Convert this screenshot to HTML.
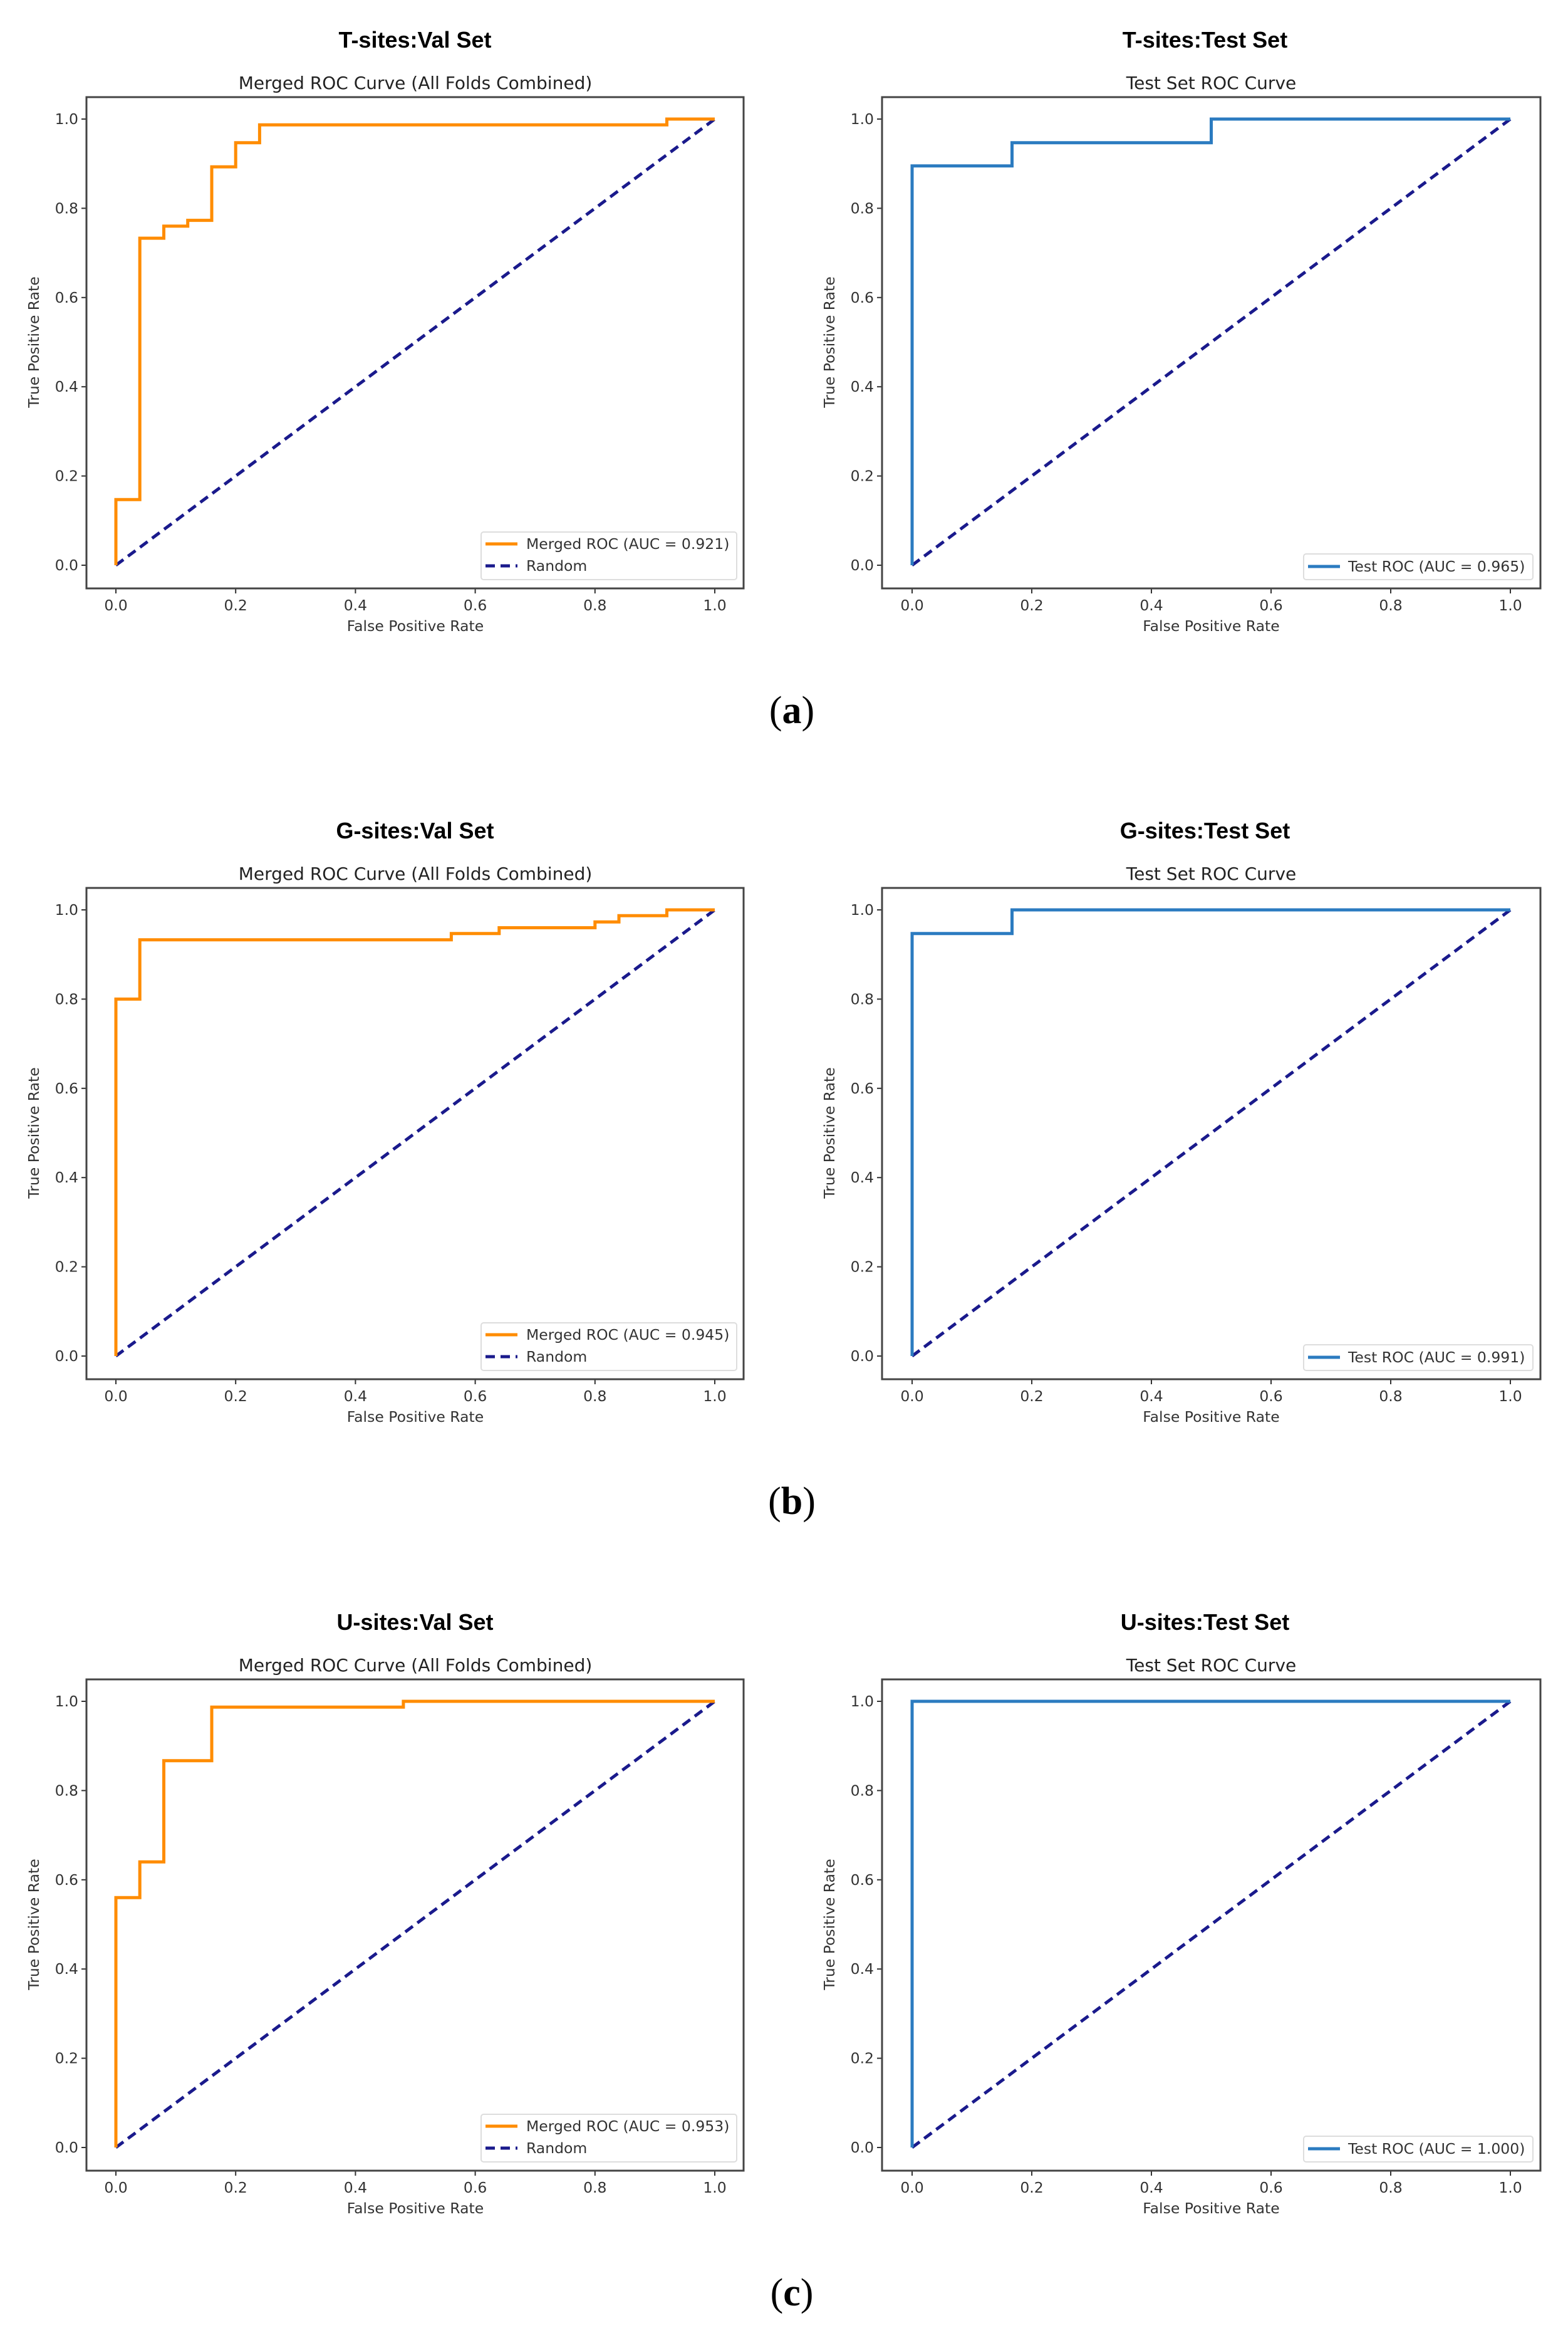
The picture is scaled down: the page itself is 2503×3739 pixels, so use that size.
<!DOCTYPE html>
<html><head><meta charset="utf-8"><style>
html,body{margin:0;padding:0;background:#fff;}
svg{display:block;}
</style></head><body>
<svg id="fig" width="2503" height="3739" viewBox="0 0 2503 3739" xmlns="http://www.w3.org/2000/svg"></svg>
<script>
// ---- data ----
const tValX = [0,0,0.04,0.04,0.08,0.08,0.12,0.12,0.16,0.16,0.2,0.2,0.24,0.24,0.92,0.92,1];
const tValY = [0,0.147,0.147,0.733,0.733,0.76,0.76,0.773,0.773,0.893,0.893,0.947,0.947,0.987,0.987,1,1];
const tTestX = [0,0,0.167,0.167,0.5,0.5,1];
const tTestY = [0,0.895,0.895,0.947,0.947,1,1];
const gValX = [0,0,0.04,0.04,0.56,0.56,0.64,0.64,0.8,0.8,0.84,0.84,0.92,0.92,1];
const gValY = [0,0.8,0.8,0.933,0.933,0.947,0.947,0.96,0.96,0.973,0.973,0.987,0.987,1,1];
const gTestX = [0,0,0.167,0.167,1];
const gTestY = [0,0.947,0.947,1,1];
const uValX = [0,0,0.04,0.04,0.08,0.08,0.16,0.16,0.48,0.48,1];
const uValY = [0,0.56,0.56,0.64,0.64,0.867,0.867,0.987,0.987,1,1];
const uTestX = [0,0,1];
const uTestY = [0,1,1];
const randomX = [0,1];
const randomY = [0,1];
const tickVals = [0,0.2,0.4,0.6,0.8,1.0];
const tickLabels = ["0.0","0.2","0.4","0.6","0.8","1.0"];
const panelTitles = ["T-sites:Val Set","T-sites:Test Set","G-sites:Val Set","G-sites:Test Set","U-sites:Val Set","U-sites:Test Set"];
const aucVal = ["0.921","0.945","0.953"];
const aucTest = ["0.965","0.991","1.000"];
const figLabels = ["(a)","(b)","(c)"];

const NS = "http://www.w3.org/2000/svg";
const svg = document.getElementById("fig");
function mk(tag, attrs, parent){
  const e = document.createElementNS(NS, tag);
  for (const k in attrs) e.setAttribute(k, attrs[k]);
  (parent||svg).appendChild(e);
  return e;
}
const rowTop = [64, 1326, 2589];
const colBox = [{l:138,r:1187,x0:185,x1:1141},{l:1408,r:2459,x0:1456,x1:2411}];
const series = [[tValX,tValY],[tTestX,tTestY],[gValX,gValY],[gTestX,gTestY],[uValX,uValY],[uTestX,uTestY]];
const FS = 23.5;

for (let r=0;r<3;r++){
  for (let c=0;c<2;c++){
    const idx = r*2+c;
    const T = rowTop[r];
    const cb = colBox[c];
    const top = T+91, bot = T+875, y1 = T+126, y0 = T+838;
    const sx = v => cb.x0 + v*(cb.x1-cb.x0);
    const sy = v => y0 - v*(y0-y1);
    const g = mk("g",{});
    
    
    const cx = (cb.l+cb.r)/2 + (c===1 ? -10 : 0);
    const tt = mk("text",{x:cx,y:T+12,"text-anchor":"middle","font-family":"Liberation Sans, Arial, sans-serif","font-weight":"bold","font-size":"36"},g);
    tt.textContent = panelTitles[idx];
    
    
    const st = mk("text",{x:(cb.x0+cb.x1)/2,y:T+78,"text-anchor":"middle","font-family":"DejaVu Sans, sans-serif","font-size":"28",fill:"#222"},g);
    st.textContent = c===0 ? "Merged ROC Curve (All Folds Combined)" : "Test Set ROC Curve";
    
    
    for (let i=0;i<tickVals.length;i++){
      const xv = sx(tickVals[i]);
      mk("line",{x1:xv,x2:xv,y1:bot,y2:bot+8,stroke:"#333","stroke-width":2},g);
      const xl = mk("text",{x:xv,y:bot+35,"text-anchor":"middle","font-family":"DejaVu Sans, sans-serif","font-size":FS,fill:"#333"},g);
      xl.textContent = tickLabels[i];
      
      
      const yv = sy(tickVals[i]);
      mk("line",{x1:cb.l-8,x2:cb.l,y1:yv,y2:yv,stroke:"#333","stroke-width":2},g);
      const yl = mk("text",{x:cb.l-13,y:yv+8,"text-anchor":"end","font-family":"DejaVu Sans, sans-serif","font-size":FS,fill:"#333"},g);
      yl.textContent = tickLabels[i];
      
      
    }
    const xt = mk("text",{x:(cb.x0+cb.x1)/2,y:bot+68,"text-anchor":"middle","font-family":"DejaVu Sans, sans-serif","font-size":FS,fill:"#333"},g);
    xt.textContent = "False Positive Rate";
    
    
    const yx = cb.l-76, yy=(y0+y1)/2;
    const yt = mk("text",{x:yx,y:yy,"text-anchor":"middle","font-family":"DejaVu Sans, sans-serif","font-size":FS,fill:"#333",transform:"rotate(-90 "+yx+" "+yy+")"},g);
    yt.textContent = "True Positive Rate";
    
    
    const rl = mk("line",{x1:sx(randomX[0]),y1:sy(randomY[0]),x2:sx(randomX[1]),y2:sy(randomY[1]),stroke:"#1a1a8c","stroke-width":5,"stroke-dasharray":"15 9"},g);
    
    
    const [xs,ys] = series[idx];
    const pts = xs.map((x,i)=>sx(x).toFixed(1)+","+sy(ys[i]).toFixed(1)).join(" ");
    const color = c===0 ? "#ff8c00" : "#2b7bc0";
    const pl = mk("polyline",{points:pts,fill:"none",stroke:color,"stroke-width":5,"stroke-linejoin":"miter"},g);
    
    
    const fr = mk("rect",{x:cb.l,y:top,width:cb.r-cb.l,height:bot-top,fill:"none",stroke:"#444","stroke-width":3},g);
    
    
    const lg = mk("g",{},g);
    
    
    if (c===0){
      mk("rect",{x:768,y:y0-53,width:408,height:76,rx:4,fill:"#fff",stroke:"#ddd","stroke-width":2},lg);
      mk("line",{x1:775,x2:826,y1:y0-34,y2:y0-34,stroke:color,"stroke-width":5},lg);
      const a = mk("text",{x:840,y:y0-26,"font-family":"DejaVu Sans, sans-serif","font-size":FS,fill:"#333"},lg);
      a.textContent = "Merged ROC (AUC = "+aucVal[r]+")";
      mk("line",{x1:775,x2:826,y1:y0+1,y2:y0+1,stroke:"#1a1a8c","stroke-width":5,"stroke-dasharray":"15 9"},lg);
      const b = mk("text",{x:840,y:y0+9,"font-family":"DejaVu Sans, sans-serif","font-size":FS,fill:"#333"},lg);
      b.textContent = "Random";
    } else {
      mk("rect",{x:2081,y:y0-18,width:366,height:41,rx:4,fill:"#fff",stroke:"#ddd","stroke-width":2},lg);
      mk("line",{x1:2088,x2:2139,y1:y0+2,y2:y0+2,stroke:color,"stroke-width":5},lg);
      const a = mk("text",{x:2152,y:y0+10,"font-family":"DejaVu Sans, sans-serif","font-size":FS,fill:"#333"},lg);
      a.textContent = "Test ROC (AUC = "+aucTest[r]+")";
    }
  }
  const fl = mk("text",{x:1264,y:rowTop[r]+1090,"text-anchor":"middle","font-family":"Liberation Serif, serif","font-size":"62"});
  fl.innerHTML = '(<tspan font-weight="bold">'+figLabels[r].slice(1,2)+'</tspan>)';
  
  
}
</script>
</body></html>
